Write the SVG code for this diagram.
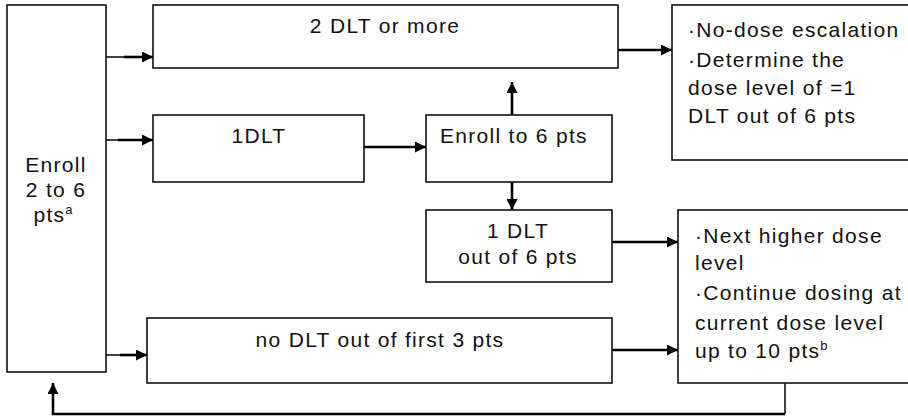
<svg xmlns="http://www.w3.org/2000/svg" width="908" height="416" viewBox="0 0 908 416">
<defs>
<style>
.box{fill:#fff;stroke:#111;stroke-width:1.6}
.t{font-family:"Liberation Sans",Arial,sans-serif;font-size:21px;letter-spacing:1.3px;fill:#111}
.c{stroke:#000;stroke-width:2.6;fill:none}
.thin{stroke:#000;stroke-width:1.5;fill:none}
.sup{font-size:13px;letter-spacing:0}
</style>
<marker id="ah" viewBox="0 0 10 10" refX="10" refY="5" markerWidth="11" markerHeight="11" markerUnits="userSpaceOnUse" orient="auto">
<path d="M0,0 L10,5 L0,10 z" fill="#000"/>
</marker>
</defs>
<rect width="908" height="416" fill="#fff"/>
<g id="connectors">
<path class="thin" d="M106,57 H125"/>
<path class="c" d="M124,57 H153" marker-end="url(#ah)"/>
<path class="thin" d="M106,140 H125"/>
<path class="c" d="M118,140 H153" marker-end="url(#ah)"/>
<path class="thin" d="M106,355 H122"/>
<path class="c" d="M120,355 H147" marker-end="url(#ah)"/>
<path class="c" d="M364,147 H426" marker-end="url(#ah)"/>
<path class="c" d="M512,115 V82" marker-end="url(#ah)"/>
<path class="c" d="M512,182 V210" marker-end="url(#ah)"/>
<path class="c" d="M618,50 H672" marker-end="url(#ah)"/>
<path class="c" d="M612,242 H678" marker-end="url(#ah)"/>
<path class="c" d="M612,350 H678" marker-end="url(#ah)"/>
<path class="thin" d="M785,383 V414"/>
<path class="c" d="M785,414 H53 V383" marker-end="url(#ah)"/>
</g>
<g id="n-enroll">
<rect class="box" x="7" y="5" width="99" height="367"/>
<text class="t" text-anchor="middle"><tspan x="56" y="172">Enroll</tspan><tspan x="56" y="197">2 to 6</tspan><tspan x="53" y="222">pts<tspan class="sup" dy="-8">a</tspan></tspan></text>
</g>
<g id="n-2dlt">
<rect class="box" x="153" y="5" width="465" height="63"/>
<text class="t" x="385" y="33" text-anchor="middle">2 DLT or more</text>
</g>
<g id="n-nodose">
<rect class="box" x="672" y="5" width="245" height="155"/>
<text class="t"><tspan x="688" y="37">·No-dose escalation</tspan><tspan x="688" y="67">·Determine the</tspan><tspan x="688" y="95">dose level of =1</tspan><tspan x="688" y="123">DLT out of 6 pts</tspan></text>
</g>
<g id="n-1dlt">
<rect class="box" x="153" y="115" width="211" height="67"/>
<text class="t" x="259" y="143" text-anchor="middle">1DLT</text>
</g>
<g id="n-enroll6">
<rect class="box" x="426" y="115" width="186" height="67"/>
<text class="t" x="440" y="143">Enroll to 6 pts</text>
</g>
<g id="n-1dlt6">
<rect class="box" x="426" y="210" width="186" height="72"/>
<text class="t" text-anchor="middle"><tspan x="518" y="238">1 DLT</tspan><tspan x="518" y="264">out of 6 pts</tspan></text>
</g>
<g id="n-nodlt">
<rect class="box" x="147" y="318" width="465" height="65"/>
<text class="t" x="380" y="347" text-anchor="middle">no DLT out of first 3 pts</text>
</g>
<g id="n-next">
<rect class="box" x="678" y="210" width="240" height="173"/>
<text class="t"><tspan x="695" y="243">·Next higher dose</tspan><tspan x="695" y="270">level</tspan><tspan x="695" y="300">·Continue dosing at</tspan><tspan x="695" y="330">current dose level</tspan><tspan x="695" y="358">up to 10 pts<tspan class="sup" dy="-8">b</tspan></tspan></text>
</g>
</svg>
